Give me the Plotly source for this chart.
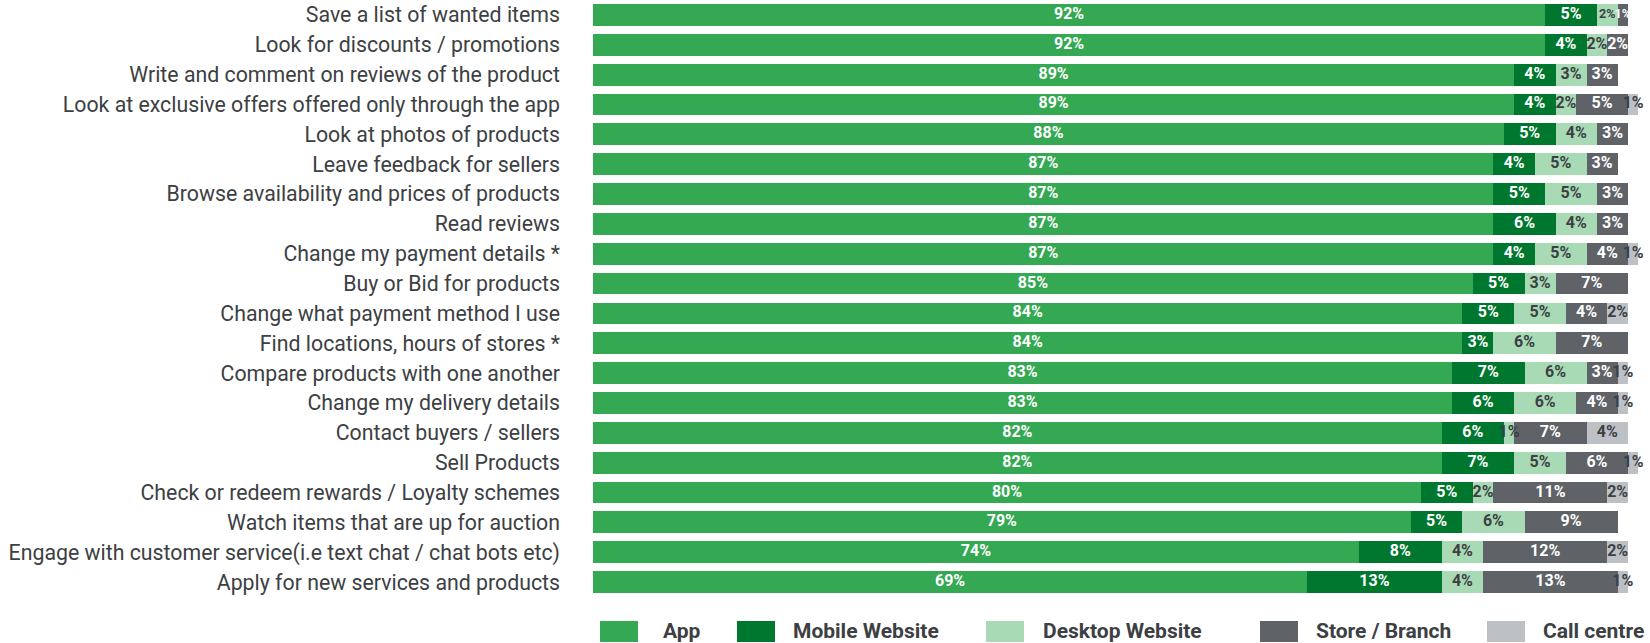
import plotly.graph_objects as go

# Activities, listed top to bottom
activities = [
    "Save a list of wanted items",
    "Look for discounts / promotions",
    "Write and comment on reviews of the product",
    "Look at exclusive offers offered only through the app",
    "Look at photos of products",
    "Leave feedback for sellers",
    "Browse availability and prices of products",
    "Read reviews",
    "Change my payment details *",
    "Buy or Bid for products",
    "Change what payment method I use",
    "Find locations, hours of stores *",
    "Compare products with one another",
    "Change my delivery details",
    "Contact buyers / sellers",
    "Sell Products",
    "Check or redeem rewards / Loyalty schemes",
    "Watch items that are up for auction",
    "Engage with customer service(i.e text chat / chat bots etc)",
    "Apply for new services and products",
]

# Share of respondents (%) per channel
app = [92, 92, 89, 89, 88, 87, 87, 87, 87, 85, 84, 84, 83, 83, 82, 82, 80, 79, 74, 69]
mobile_website = [5, 4, 4, 4, 5, 4, 5, 6, 4, 5, 5, 3, 7, 6, 6, 7, 5, 5, 8, 13]
desktop_website = [2, 2, 3, 2, 4, 5, 5, 4, 5, 3, 5, 6, 6, 6, 1, 5, 2, 6, 4, 4]
store_branch = [1, 2, 3, 5, 3, 3, 3, 3, 4, 7, 4, 7, 3, 4, 7, 6, 11, 9, 12, 13]
call_centre = [0, 0, 0, 1, 0, 0, 0, 0, 1, 0, 2, 0, 1, 1, 4, 1, 2, 0, 2, 1]

series = [
    ("App", app, "#34A853", "white"),
    ("Mobile Website", mobile_website, "#00772E", "white"),
    ("Desktop Website", desktop_website, "#A8DAB5", "#3C4043"),
    ("Store / Branch", store_branch, "#5F6368", "white"),
    ("Call centre", call_centre, "#BDC1C6", "#3C4043"),
]

W, H = 1650, 643
ML, MT, MB = 593, 0, 46
plot_w = W - ML
plot_h = H - MT - MB
px_per_pct = 10.35

LABEL_SIZE, SMALL_LABEL_SIZE = 16, 12.5


def label_sizes(k):
    """Shrink a segment label only when it and a non-empty neighbour are both very narrow."""
    sizes = []
    for r in range(len(activities)):
        row = [s[1][r] for s in series]
        v = row[k]
        tight = False
        for j in (k - 1, k + 1):
            if 0 <= j < len(row) and row[j] and v + row[j] <= 3:
                tight = True
        sizes.append(SMALL_LABEL_SIZE if tight else LABEL_SIZE)
    return sizes


fig = go.Figure()

# Stacked bars
for name, vals, color, _ in series:
    fig.add_trace(go.Bar(
        name=name,
        y=activities,
        x=vals,
        orientation="h",
        marker=dict(color=color, line=dict(width=0)),
        showlegend=False,
        hoverinfo="skip",
    ))

# Value labels, layered above every bar so overflowing labels stay readable
base = [0] * len(activities)
for k, (name, vals, color, tcolor) in enumerate(series):
    mids = [b + v / 2 for b, v in zip(base, vals)]
    fig.add_trace(go.Scatter(
        x=mids,
        y=activities,
        mode="text",
        text=[f"{v}%" if v else "" for v in vals],
        textposition="middle center",
        textfont=dict(family="Roboto", size=label_sizes(k), color=tcolor, weight="bold"),
        cliponaxis=False,
        showlegend=False,
        hoverinfo="skip",
    ))
    base = [b + v for b, v in zip(base, vals)]

# Legend drawn as swatches + labels below the bars
legend_items = [
    ("App", "#34A853", 600, 661),
    ("Mobile Website", "#00772E", 737, 791),
    ("Desktop Website", "#A8DAB5", 986, 1041),
    ("Store / Branch", "#5F6368", 1260, 1314),
    ("Call centre", "#BDC1C6", 1487, 1541),
]


def xp(px):
    return (px - ML) / plot_w


def yp(py):
    return (MT + plot_h - py) / plot_h


for label, color, sx, tx in legend_items:
    fig.add_shape(type="rect", xref="paper", yref="paper",
                  x0=xp(sx), x1=xp(sx + 38), y0=yp(642), y1=yp(621),
                  fillcolor=color, line=dict(width=0))
    fig.add_annotation(xref="paper", yref="paper", x=xp(tx), y=yp(631),
                       text=label, showarrow=False, xanchor="left", yanchor="middle",
                       font=dict(family="Roboto", size=21, color="#3C4043", weight="bold"))

fig.update_layout(
    width=W, height=H,
    barmode="stack",
    bargap=0.27,
    margin=dict(l=ML, r=0, t=MT, b=MB),
    paper_bgcolor="white",
    plot_bgcolor="white",
    xaxis=dict(range=[0, plot_w / px_per_pct], visible=False, fixedrange=True),
    yaxis=dict(range=[len(activities) - 0.5, -0.5], showgrid=False, zeroline=False,
               showline=False, ticks="", ticklabelstandoff=32,
               tickfont=dict(family="Roboto", size=21.3, color="#3C4043"),
               automargin=False, fixedrange=True),
)

fig.write_html("out.html")
